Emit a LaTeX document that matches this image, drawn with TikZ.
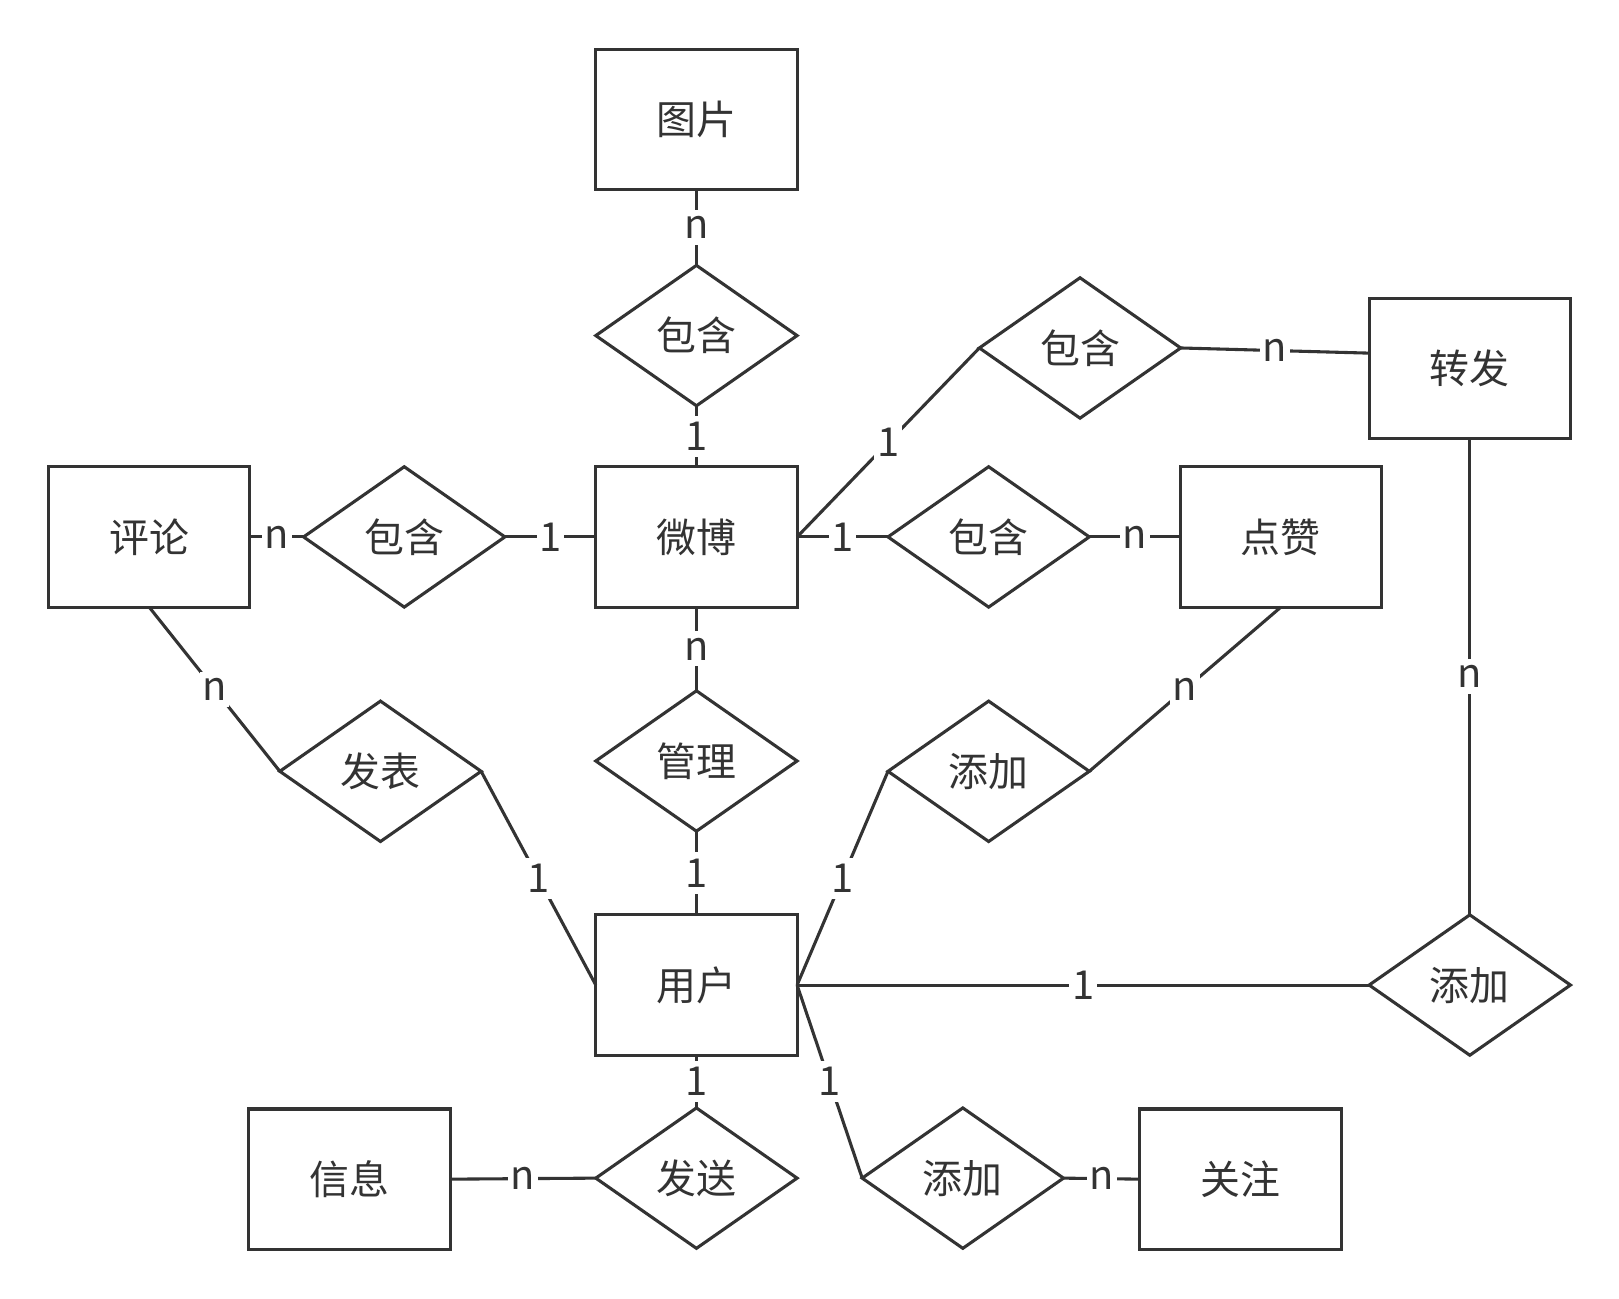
\documentclass[tikz,border=0pt]{standalone}
\usepackage{fontspec}
\setmainfont{Noto Sans CJK SC}
\usetikzlibrary{shapes.geometric}
\definecolor{ink}{HTML}{333333}
\tikzset{
  ent/.style={draw=ink, line width=1.7pt, rectangle, minimum width=3.9cm, minimum height=2.72cm, inner sep=0pt, outer sep=0pt, text=ink, font=\fontsize{22}{26}\selectfont},
  rel/.style={draw=ink, line width=1.7pt, diamond, aspect=1.43, minimum width=3.9cm, minimum height=2.72cm, inner sep=0pt, outer sep=0pt, text=ink, font=\fontsize{22}{26}\selectfont},
  conn/.style={draw=ink, line width=1.7pt},
  card/.style={fill=white, text=ink, inner xsep=1.5pt, inner ysep=3.5pt, font=\fontsize{22}{26}\selectfont}
}
\begin{document}
\begin{tikzpicture}[x=0.02cm, y=-0.02cm]
\path[use as bounding box, fill=white] (0,0) rectangle (1568,1258);
% entities
\node[ent] (tupian)  at (674.5,115.5) {图片};
\node[ent] (pinglun) at (144.5,520) {评论};
\node[ent] (weibo)   at (674.5,520) {微博};
\node[ent] (dianzan) at (1240.5,520) {点赞};
\node[ent] (zhuanfa) at (1423.5,357) {转发};
\node[ent] (yonghu)  at (674.5,954) {用户};
\node[ent] (xinxi)   at (338.5,1142) {信息};
\node[ent] (guanzhu) at (1201.5,1142) {关注};
% relations
\node[rel] (d1)  at (674.5,325) {包含};
\node[rel] (d2)  at (391.5,520) {包含};
\node[rel] (d3)  at (1046,337) {包含};
\node[rel] (d4)  at (957.5,520) {包含};
\node[rel] (d5)  at (674.5,737) {管理};
\node[rel] (d6)  at (368.5,747) {发表};
\node[rel] (d7)  at (957.5,747) {添加};
\node[rel] (d8)  at (1423.5,954) {添加};
\node[rel] (d9)  at (674.5,1141) {发送};
\node[rel] (d10) at (932.5,1141) {添加};
\coordinate (zw) at ([yshift=0.3cm]zhuanfa.west);
% connectors
\draw[conn] (tupian.south) -- node[card] {n} (d1.north);
\draw[conn] (d1.south) -- node[card] {1} (weibo.north);
\draw[conn] (pinglun.east) -- node[card] {n} (d2.west);
\draw[conn] (d2.east) -- node[card] {1} (weibo.west);
\draw[conn] (weibo.east) -- node[card] {1} (d3.west);
\draw[conn] (d3.east) -- node[card] {n} (zw);
\draw[conn] (weibo.east) -- node[card] {1} (d4.west);
\draw[conn] (d4.east) -- node[card] {n} (dianzan.west);
\draw[conn] (weibo.south) -- node[card] {n} (d5.north);
\draw[conn] (d5.south) -- node[card] {1} (yonghu.north);
\draw[conn] (pinglun.south) -- node[card] {n} (d6.west);
\draw[conn] (d6.east) -- node[card] {1} (yonghu.west);
\draw[conn] (dianzan.south) -- node[card] {n} (d7.east);
\draw[conn] (d7.west) -- node[card] {1} (yonghu.east);
\draw[conn] (zhuanfa.south) -- node[card] {n} (d8.north);
\draw[conn] (yonghu.east) -- node[card] {1} (d8.west);
\draw[conn] (yonghu.south) -- node[card] {1} (d9.north);
\draw[conn] (yonghu.east) -- node[card] {1} (d10.west);
\draw[conn] (xinxi.east) -- node[card] {n} (d9.west);
\draw[conn] (d10.east) -- node[card] {n} (guanzhu.west);
\end{tikzpicture}
\end{document}
